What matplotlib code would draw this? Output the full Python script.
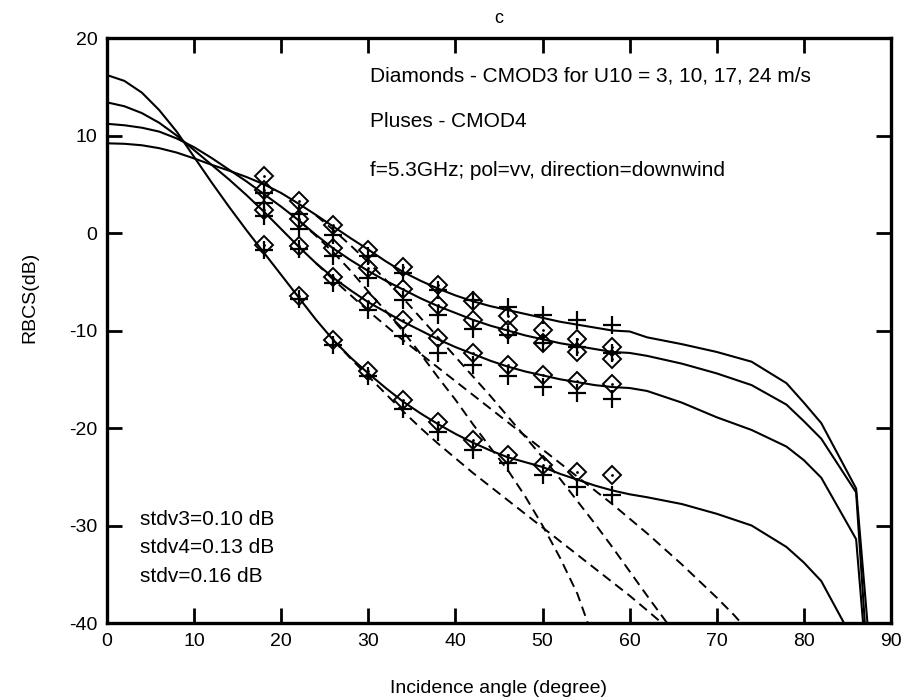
import matplotlib.pyplot as plt

plt.rcParams['font.family'] = ['Liberation Sans', 'DejaVu Sans']
plt.rcParams['axes.unicode_minus'] = False

# incidence angles of the CMOD points
theta_pts = [18, 22, 26, 30, 34, 38, 42, 46, 50, 54, 58]

# CMOD3 (diamonds), U10 = 3, 10, 17, 24 m/s
cmod3_u3 = [-1.2, -6.5, -11.0, -14.2, -17.1, -19.4, -21.2, -22.8, -23.8, -24.5, -24.8]
cmod3_u10 = [2.4, -1.3, -4.5, -7.0, -8.9, -10.8, -12.3, -13.5, -14.6, -15.2, -15.5]
cmod3_u17 = [4.4, 1.4, -1.5, -3.6, -5.7, -7.4, -8.9, -9.9, -11.3, -12.2, -12.9]
cmod3_u24 = [5.8, 3.3, 0.8, -1.7, -3.45, -5.3, -7.0, -8.5, -9.9, -10.9, -11.7]

# CMOD4 (pluses)
cmod4_u3 = [-1.7, -6.8, -11.5, -14.7, -18.0, -20.4, -22.3, -23.6, -24.8, -26.0, -26.9]
cmod4_u10 = [1.7, -1.6, -5.1, -7.9, -10.6, -12.3, -13.5, -14.7, -15.8, -16.4, -17.0]
cmod4_u17 = [3.1, 0.4, -2.4, -4.6, -6.9, -8.4, -9.8, -10.5, -11.3, -11.7, -12.3]
cmod4_u24 = [4.1, 2.0, -0.2, -2.4, -4.1, -5.8, -6.9, -7.6, -8.4, -8.9, -9.4]

# model curves
theta_model = [0, 2, 4, 6, 8, 10, 12, 14, 16, 18, 20, 22, 24, 26, 28, 30,
               32, 34, 36, 38, 40, 42, 44, 46, 48, 50, 52, 54, 56, 58, 60,
               62, 66, 70, 74, 78, 80, 82, 86, 88]
model_u3 = [16.2, 15.6, 14.4, 12.6, 10.4, 7.8, 5.2, 2.7, 0.3, -2.0, -4.3,
            -6.6, -8.9, -11.0, -12.8, -14.4, -15.9, -17.3, -18.5, -19.6,
            -20.6, -21.5, -22.3, -23.0, -23.5, -24.0, -24.7, -25.3, -25.9,
            -26.4, -26.8, -27.1, -27.8, -28.8, -30.0, -32.2, -33.8, -35.7,
            -42.3, -50.0]
model_u10 = [13.4, 13.0, 12.3, 11.3, 10.0, 8.5, 7.0, 5.5, 3.9, 2.2, 0.4,
             -1.4, -3.1, -4.6, -5.9, -7.1, -8.1, -9.1, -10.0, -10.9, -11.7,
             -12.4, -13.1, -13.7, -14.2, -14.6, -15.0, -15.3, -15.6, -15.8,
             -15.9, -16.2, -17.4, -18.9, -20.2, -21.9, -23.3, -25.1, -31.4,
             -52.9]
model_u17 = [11.2, 11.05, 10.8, 10.4, 9.7, 8.8, 7.7, 6.5, 5.3, 4.0, 2.7,
             1.3, -0.2, -1.6, -2.8, -3.9, -4.9, -5.8, -6.7, -7.5, -8.2, -8.9,
             -9.5, -10.0, -10.5, -10.9, -11.3, -11.6, -11.9, -12.2, -12.3,
             -12.6, -13.4, -14.4, -15.6, -17.6, -19.3, -21.1, -26.6, -53.4]
model_u24 = [9.2, 9.15, 9.0, 8.7, 8.25, 7.65, 7.0, 6.4, 5.75, 5.0, 4.1, 3.0,
             1.85, 0.65, -0.55, -1.7, -2.9, -4.0, -4.9, -5.7, -6.4, -7.0,
             -7.5, -7.9, -8.3, -8.7, -9.1, -9.4, -9.7, -10.0, -10.1, -10.7,
             -11.4, -12.2, -13.2, -15.4, -17.4, -19.5, -26.2, -47.4]

# dashed curves
dash_a_theta = [22, 24, 26, 28, 30, 32, 34, 36, 38, 40, 42, 44, 46, 48, 50, 52, 54, 55.2]
dash_a = [1.3, -0.3, -2.0, -3.9, -6.0, -8.0, -10.1, -12.4, -14.8, -17.1,
          -19.6, -22.0, -24.3, -27.0, -30.0, -33.3, -37.0, -40.0]
dash_c_theta = [24, 26, 28, 30, 32, 34, 36, 38, 40, 42, 44, 46, 48, 50, 52,
                54, 56, 58, 60, 62, 64.3]
dash_c = [1.8, 0.3, -1.3, -3.0, -4.8, -6.7, -8.7, -10.7, -12.7, -14.7, -16.7,
          -18.8, -20.9, -23.0, -25.2, -27.5, -29.8, -32.2, -34.7, -37.2, -40.0]
dash_d_theta = [24, 26, 28, 30, 32, 34, 36, 38, 40, 42, 44, 46, 48, 50, 52,
                54, 56, 58, 60, 62, 64, 66, 68, 70, 72, 72.8]
dash_d = [-3.1, -4.8, -6.4, -8.0, -9.5, -11.0, -12.4, -13.8, -15.2, -16.6,
          -18.0, -19.4, -20.8, -22.2, -23.6, -25.0, -26.4, -27.8, -29.3,
          -30.8, -32.4, -34.0, -35.7, -37.4, -39.2, -40.0]
dash_b_theta = [26, 28, 30, 32, 34, 36, 38, 40, 42, 44, 46, 48, 50, 52, 54,
                56, 58, 60, 62, 63.7]
dash_b = [-11.0, -12.9, -14.7, -16.5, -18.3, -20.0, -21.6, -23.1, -24.6,
          -26.0, -27.4, -28.8, -30.2, -31.6, -33.0, -34.4, -35.8, -37.2,
          -38.7, -40.0]

fig = plt.figure(figsize=(9.06, 7.0), dpi=100)
ax = fig.add_axes([0.1181, 0.11, 0.8653, 0.8357])

for y in [model_u3, model_u10, model_u17, model_u24]:
    ax.plot(theta_model, y, color='black', lw=1.5)

for xs, y in [(dash_a_theta, dash_a), (dash_c_theta, dash_c),
              (dash_d_theta, dash_d), (dash_b_theta, dash_b)]:
    ax.plot(xs, y, color='black', lw=1.4, dashes=(5, 3))

for y in [cmod3_u3, cmod3_u10, cmod3_u17, cmod3_u24]:
    ax.plot(theta_pts, y, ls='none', marker='D', ms=9, mfc='none',
            mec='black', mew=1.4)
    ax.plot(theta_pts, y, ls='none', marker='.', ms=2, color='black')

for y in [cmod4_u3, cmod4_u10, cmod4_u17, cmod4_u24]:
    ax.plot(theta_pts, y, ls='none', marker='+', ms=13, mec='black', mew=1.6)

ax.set_xlim(0, 90)
ax.set_ylim(-40, 20)
ax.set_xticks(range(0, 91, 10))
ax.set_yticks(range(-40, 21, 10))
ax.tick_params(direction='in', length=11, width=2, top=True, right=True,
               labelsize=14, pad=7)
for s in ax.spines.values():
    s.set_linewidth(2.4)

ax.set_xlabel('Incidence angle (degree)', fontsize=14, labelpad=22)
ax.set_ylabel('RBCS(dB)', fontsize=14)
ax.yaxis.set_label_coords(-0.088, 0.557)
ax.set_title('c', fontsize=13, pad=11)

ax.text(30.2, 16.1, 'Diamonds - CMOD3 for U10 = 3, 10, 17, 24 m/s', fontsize=15, va='center')
ax.text(30.2, 11.4, 'Pluses - CMOD4', fontsize=15, va='center')
ax.text(30.2, 6.4, 'f=5.3GHz; pol=vv, direction=downwind', fontsize=15, va='center')
ax.text(3.8, -29.4, 'stdv3=0.10 dB', fontsize=15, va='center')
ax.text(3.8, -32.3, 'stdv4=0.13 dB', fontsize=15, va='center')
ax.text(3.8, -35.2, 'stdv=0.16 dB', fontsize=15, va='center')

fig.savefig('out.png', dpi=100)
